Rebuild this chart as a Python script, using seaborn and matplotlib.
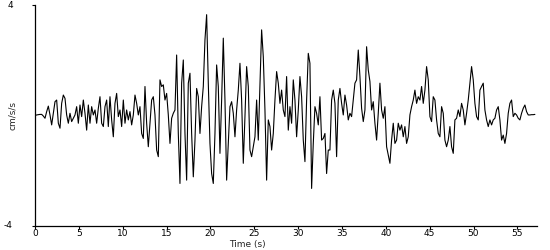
import numpy as np
import pandas as pd
import matplotlib
matplotlib.use("Agg")
import matplotlib.pyplot as plt
import seaborn as sns

# Sampling interval of the digitised record (s)
dt = 0.19

# Acceleration values (cm/s/s), in time order
seg1 = [0.0, 0.02, 0.03, 0.04, 0.04, -0.02, -0.10, 0.14, 0.34, 0.02, -0.34, 0.08,
        0.50, 0.56, -0.28, -0.46, 0.44, 0.74, 0.62, 0.02, -0.28, 0.08, -0.22, -0.10,
        0.02, 0.32, -0.28, 0.38, -0.04, 0.56, 0.08, -0.53, 0.38, -0.28]
seg2 = [0.32, 0.02, 0.20, -0.28, 0.26, 0.68, -0.28, -0.40, 0.32, 0.56, -0.40, 0.68,
        -0.16, -0.77, 0.44, 0.80, -0.04, 0.20, -0.40, 0.56, -0.28, 0.20, -0.16, 0.14,
        -0.34, 0.02, 0.74, 0.44, 0.02, 0.32, -0.65, -0.83, 1.05]
seg3 = [-0.28, -1.13, -0.28, 0.56, 0.68, 0.02, -1.25, -1.49, 1.29, 1.05, 1.11, 0.56,
        0.80, 0.02, -1.01, -0.10, 0.08, 0.20, 2.19, -0.65, -2.46, 1.17, 2.01, -0.65,
        -2.34, 1.17, 1.53, -0.65, -2.22, -0.89, 0.98, 0.68, -0.65]
seg4 = [0.32, 1.05, 2.74, 3.65, 1.17, -1.01, -2.10, -2.46, -0.65, 1.83, 1.05, -1.37,
        0.56, 2.80, 0.56, -2.34, -1.01, 0.32, 0.50, 0.08, -0.77, 0.20, 0.92, 1.89,
        0.56, -1.73, -0.04, 1.77, 1.05, -1.25, -1.49, -1.13, -0.77]
seg5 = [0.56, -0.89, 1.05, 3.10, 2.13, 0.20, -2.34, -0.16, -0.40, -1.25, -0.65, 0.56,
        1.59, 1.17, 0.44, 0.92, 0.20, -0.04, 1.41, -0.53, 0.32, -0.28, 1.29, 0.56,
        -0.77, 0.20, 1.41, 0.68, -0.89, -1.67, 0.56, 2.25, 1.89]
seg6 = [-2.64, -1.01, 0.32, 0.08, -0.34, 0.68, -0.89, -0.83, -0.65, -2.10, -1.25, -1.25,
        0.56, 0.92, 0.44, -1.49, 0.56, 0.98, 0.44, 0.02, 0.74, 0.38, -0.16, 0.08,
        -0.04, 0.56, 1.17, 1.29, 2.37, 1.41, 0.26, -0.22, 0.20]
seg7 = [2.49, 1.65, 1.23, 0.20, 0.50, -0.28, -0.89, 0.08, 1.17, 0.20, -0.10, 0.32,
        -1.13, -1.43, -1.73, -0.89, -0.28, -1.01, -0.89, -0.28, -0.53, -0.34, -0.77, -0.40,
        -1.01, -0.77, 0.02, 0.32, 0.56, 0.92, 0.44, 0.68, 0.56]
seg8 = [1.05, 0.44, 0.92, 1.77, 1.29, -0.04, -0.22, 0.68, 0.56, -0.16, -0.65, -0.77,
        0.32, 0.08, -0.89, -1.13, -0.89, -0.40, -1.13, -1.37, -0.16, -0.10, 0.20, -0.04,
        0.44, 0.20, -0.34, 0.08, 0.56, 1.17, 1.77, 1.29, 0.44]
seg9 = [-0.04, -0.16, 0.92, 1.05, 1.17, 0.20, -0.16, -0.40, -0.16, -0.34, -0.16, -0.10,
        0.20, 0.32, -0.16, -0.89, -0.71, -1.01, -0.65, 0.08, 0.44, 0.56, -0.04, 0.08,
        0.02, -0.10, -0.16, 0.08, 0.26, 0.38, 0.14, 0.02, 0.02, 0.03, 0.03, 0.04]

x_ticks = [0, 5, 10, 15, 20, 25, 30, 35, 40, 45, 50, 55]
y_ticks = [-4, 4]

accel = seg1 + seg2 + seg3 + seg4 + seg5 + seg6 + seg7 + seg8 + seg9
time = np.arange(len(accel)) * dt
df = pd.DataFrame({"Time (s)": time, "cm/s/s": accel})

sns.set_style("ticks")
plt.rcParams["font.family"] = ["DejaVu Sans"]
plt.rcParams["axes.unicode_minus"] = False

fig = plt.figure(figsize=(5.5, 2.5), dpi=100)
ax = fig.add_axes([35 / 550, 24 / 250, 502 / 550, 221 / 250])

sns.lineplot(data=df, x="Time (s)", y="cm/s/s", ax=ax, color="black",
             linewidth=0.8, estimator=None, sort=False)

ax.set_xlim(0, 57.24)
ax.set_ylim(-4, 4)
ax.set_xticks(x_ticks)
ax.set_xticklabels([str(v) for v in x_ticks], fontsize=6.5)
ax.set_yticks(y_ticks)
ax.set_yticklabels([str(v) for v in y_ticks], fontsize=6.5)
ax.tick_params(axis="x", length=2.5, width=0.8, pad=0, colors="black")
ax.tick_params(axis="y", length=2, width=0.8, pad=14, colors="black")
for lab in ax.get_yticklabels():
    lab.set_verticalalignment("center")

sns.despine(ax=ax)
for s in ["left", "bottom"]:
    ax.spines[s].set_linewidth(0.9)
    ax.spines[s].set_color("black")

ax.set_xlabel("Time (s)", fontsize=6.5)
ax.set_ylabel("cm/s/s", fontsize=6.5)
ax.xaxis.set_label_coords((247 - 35) / 502, -0.084)
ax.xaxis.label.set_verticalalignment("center")
ax.yaxis.set_label_coords((12.5 - 35) / 502, 0.5)
ax.yaxis.label.set_verticalalignment("center")

fig.savefig("out.png", dpi=100)
